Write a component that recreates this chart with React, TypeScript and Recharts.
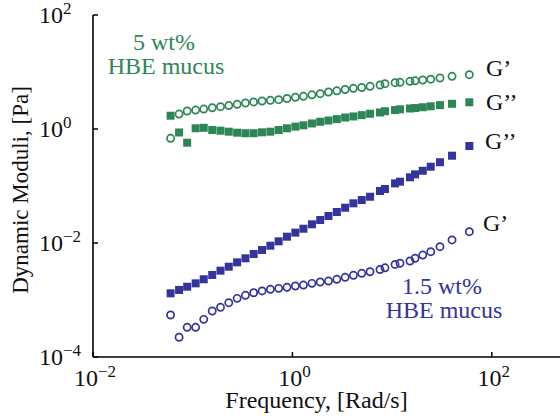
import React from "react";
import { ScatterChart, Scatter, XAxis, YAxis } from "recharts";

const freq = [0.060, 0.073, 0.088, 0.107, 0.129, 0.157, 0.190, 0.230, 0.279, 0.338, 0.409, 0.496, 0.601, 0.728, 0.882, 1.07, 1.29, 1.57, 1.90, 2.30, 2.79, 3.38, 4.09, 4.96, 6.01, 7.56, 8.48, 10.7, 12.0, 15.1, 17.0, 20.3, 24.4, 30.2, 39.9, 59.5];

const blueGpp = [1.31e-3, 1.50e-3, 1.71e-3, 1.96e-3, 2.31e-3, 2.75e-3, 3.27e-3, 3.84e-3, 4.58e-3, 5.39e-3, 6.41e-3, 7.54e-3, 8.97e-3, 1.07e-2, 1.29e-2, 1.52e-2, 1.78e-2, 2.13e-2, 2.53e-2, 2.98e-2, 3.50e-2, 4.16e-2, 4.97e-2, 5.68e-2, 6.48e-2, 8.17e-2, 8.85e-2, 0.111, 0.119, 0.142, 0.160, 0.185, 0.218, 0.261, 0.340, 0.503];

const blueGp = [5.46e-4, 2.22e-4, 3.32e-4, 3.32e-4, 4.58e-4, 6.41e-4, 7.45e-4, 8.97e-4, 1.07e-3, 1.21e-3, 1.34e-3, 1.44e-3, 1.54e-3, 1.60e-3, 1.67e-3, 1.76e-3, 1.83e-3, 1.96e-3, 2.07e-3, 2.15e-3, 2.31e-3, 2.50e-3, 2.71e-3, 2.94e-3, 3.13e-3, 3.43e-3, 3.67e-3, 4.20e-3, 4.41e-3, 4.83e-3, 5.39e-3, 6.15e-3, 7.03e-3, 8.61e-3, 1.13e-2, 1.58e-2];

const greenGp = [0.687, 1.83, 2.07, 2.15, 2.24, 2.36, 2.46, 2.58, 2.71, 2.86, 2.98, 3.10, 3.19, 3.27, 3.43, 3.60, 3.75, 3.98, 4.16, 4.46, 4.68, 4.93, 5.18, 5.35, 5.61, 5.91, 6.23, 6.49, 6.60, 6.87, 7.01, 7.24, 7.48, 7.85, 8.41, 8.97];

const greenGpp = [1.71, 0.869, 0.575, 1.03, 1.05, 0.960, 0.933, 0.897, 0.861, 0.843, 0.843, 0.875, 0.897, 0.960, 1.03, 1.10, 1.16, 1.25, 1.34, 1.41, 1.49, 1.59, 1.66, 1.75, 1.85, 1.95, 2.05, 2.15, 2.22, 2.29, 2.33, 2.41, 2.50, 2.62, 2.77, 2.94];

const xTicks = [0.01, 1, 100];
const xTickExp = ["\u22122", "0", "2"];
const yTicks = [1e-4, 1e-2, 1, 100];
const yTickExp = ["\u22124", "\u22122", "0", "2"];

const GREEN = "#2E8656";
const BLUE = "#34349C";
const FONT = "'Liberation Serif', 'Times New Roman', serif";

const toPts = (ys: number[]) => freq.map((f, i) => ({ x: f, y: ys[i] }));

const Square = (color: string) => (p: any) => (
  <rect x={p.cx - 4} y={p.cy - 4} width={8} height={8} fill={color} />
);
const Ring = (color: string) => (p: any) => (
  <circle cx={p.cx} cy={p.cy} r={3.6} fill="none" stroke={color} strokeWidth={1.7} />
);

const XTickBottom = (p: any) => {
  const i = xTicks.indexOf(p.payload.value);
  return (
    <g>
      <line x1={p.x} x2={p.x} y1={p.y} y2={p.y - 5} stroke="#000" strokeWidth={1.5} />
      <text x={p.x + 2} y={386} textAnchor="middle" fontFamily={FONT} fontSize={24} fill="#111">
        <tspan>10</tspan>
        <tspan dy={-9} fontSize={17}>{xTickExp[i]}</tspan>
      </text>
    </g>
  );
};
const XTickTop = (p: any) => (
  <line x1={p.x} x2={p.x} y1={p.y} y2={p.y + 5} stroke="#000" strokeWidth={1.5} />
);
const YTickLeft = (p: any) => {
  const i = yTicks.indexOf(p.payload.value);
  return (
    <g>
      <line x1={p.x} x2={p.x + 5} y1={p.y} y2={p.y} stroke="#000" strokeWidth={1.5} />
      <text x={39} y={p.y + 8} textAnchor="start" fontFamily={FONT} fontSize={24} fill="#111">
        <tspan>10</tspan>
        <tspan dy={-9} fontSize={17}>{yTickExp[i]}</tspan>
      </text>
    </g>
  );
};
const YTickRight = (p: any) => (
  <line x1={p.x} x2={p.x - 5} y1={p.y} y2={p.y} stroke="#000" strokeWidth={1.5} />
);

export default function App() {
  return (
    <div style={{ position: "fixed", left: 0, top: 0, width: 560, height: 417, overflow: "hidden", background: "#fff" }}>
      <ScatterChart width={600} height={417} margin={{ top: 15, right: 38.5, bottom: 0, left: 0 }}>
        <XAxis
          xAxisId="b"
          type="number"
          dataKey="x"
          scale="log"
          domain={[0.01, 500]}
          allowDataOverflow
          ticks={xTicks}
          interval={0}
          height={60}
          tickSize={0}
          tickMargin={0}
          tickLine={false}
          tick={XTickBottom}
          axisLine={{ stroke: "#000", strokeWidth: 1.6 }}
        />
        <XAxis
          xAxisId="t"
          orientation="top"
          type="number"
          dataKey="x"
          scale="log"
          domain={[0.01, 500]}
          allowDataOverflow
          ticks={xTicks}
          interval={0}
          height={0}
          tickSize={0}
          tickMargin={0}
          tickLine={false}
          tick={XTickTop}
          axisLine={{ stroke: "#000", strokeWidth: 1.6 }}
        />
        <YAxis
          yAxisId="l"
          type="number"
          dataKey="y"
          scale="log"
          domain={[1e-4, 100]}
          allowDataOverflow
          ticks={yTicks}
          interval={0}
          width={93}
          tickSize={0}
          tickMargin={0}
          tickLine={false}
          tick={YTickLeft}
          axisLine={{ stroke: "#000", strokeWidth: 1.6 }}
        />
        <YAxis
          yAxisId="r"
          orientation="right"
          type="number"
          dataKey="y"
          scale="log"
          domain={[1e-4, 100]}
          allowDataOverflow
          ticks={yTicks}
          interval={0}
          width={0}
          tickSize={0}
          tickMargin={0}
          tickLine={false}
          tick={YTickRight}
          axisLine={{ stroke: "#000", strokeWidth: 1.6 }}
        />
        <Scatter xAxisId="b" yAxisId="l" data={toPts(greenGpp)} shape={Square(GREEN)} isAnimationActive={false} />
        <Scatter xAxisId="b" yAxisId="l" data={toPts(greenGp)} shape={Ring(GREEN)} isAnimationActive={false} />
        <Scatter xAxisId="b" yAxisId="l" data={toPts(blueGpp)} shape={Square(BLUE)} isAnimationActive={false} />
        <Scatter xAxisId="b" yAxisId="l" data={toPts(blueGp)} shape={Ring(BLUE)} isAnimationActive={false} />
      </ScatterChart>
      <svg width={560} height={417} style={{ position: "absolute", left: 0, top: 0, pointerEvents: "none" }}>
        <g fontFamily={FONT} fontSize={24}>
          <text x={164} y={50} textAnchor="middle" fill={GREEN}>5 wt%</text>
          <text x={166} y={74} textAnchor="middle" fill={GREEN}>HBE mucus</text>
          <text x={442} y={294} textAnchor="middle" fill={BLUE}>1.5 wt%</text>
          <text x={444} y={318} textAnchor="middle" fill={BLUE}>HBE mucus</text>
          <text x={486} y={76} fill="#111">G’</text>
          <text x={486} y={110} fill="#111">G’’</text>
          <text x={485} y={149} fill="#111">G’’</text>
          <text x={483} y={231} fill="#111">G’</text>
          <text x={316.5} y={408} textAnchor="middle" fill="#111">Frequency, [Rad/s]</text>
          <text x={28} y={190} textAnchor="middle" fontSize={23} fill="#111" transform="rotate(-90 28 190)">Dynamic Moduli, [Pa]</text>
        </g>
      </svg>
    </div>
  );
}
